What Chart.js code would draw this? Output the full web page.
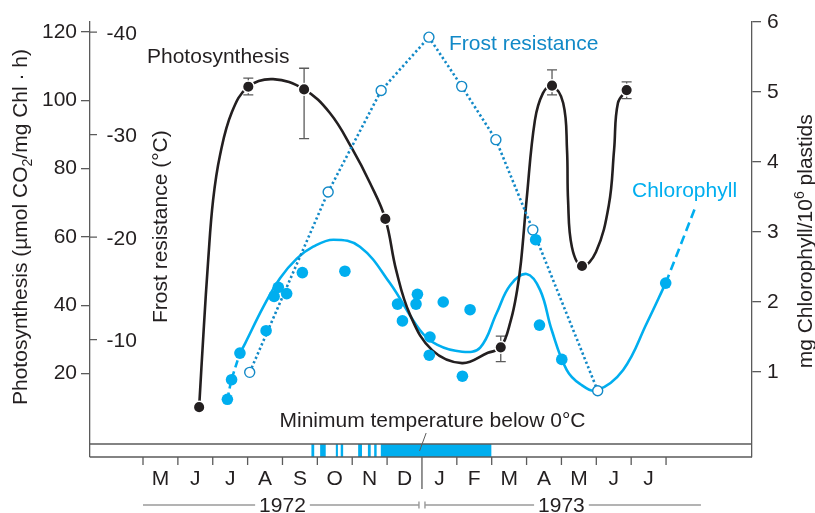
<!DOCTYPE html>
<html>
<head>
<meta charset="utf-8">
<script src="https://cdn.jsdelivr.net/npm/chart.js@4.4.1/dist/chart.umd.min.js"></script>
<style>
  html, body { margin: 0; padding: 0; background: #fff; }
  canvas { display: block; }
</style>
</head>
<body>
<canvas id="chart" width="815" height="513"></canvas>
<script>
// time axis in months counted from Jan 1972 (12 = Jan 1973)
const monthLabels = ['M', 'J', 'J', 'A', 'S', 'O', 'N', 'D', 'J', 'F', 'M', 'A', 'M', 'J', 'J'];
const firstMonth = 4;
const yearLabels = ['1972', '1973'];
const yearFrom = [4, 12];
const yearTo = [12, 20];

// tick labels
const leftTicks = [20, 40, 60, 80, 100, 120];
const frostTicks = [-10, -20, -30, -40];
const rightTicks = [1, 2, 3, 4, 5, 6];

// photosynthesis (µmol CO2/mg Chl·h)
const photoX = [5.61, 7.02, 8.62, 10.95, 14.26, 15.73, 16.59, 17.87];
const photoY = [10.2, 104.0, 103.2, 65.3, 27.7, 104.3, 51.5, 103.0];
const photoErrLow = [null, 101.6, 88.8, null, 23.5, 101.6, null, 100.5];
const photoErrHigh = [null, 106.5, 109.4, null, 31.0, 108.9, null, 105.4];
// hand drawn curve through the photosynthesis points
const photoCurveX = [5.61, 5.74, 5.87, 6.01, 6.21, 6.55, 7.02, 7.73, 8.62, 9.36, 9.99, 10.51, 10.95, 11.26, 11.66,
  12.29, 13.15, 13.89, 14.26, 14.55, 14.73, 14.84, 15.00, 15.24, 15.47, 15.73, 16.05, 16.16, 16.19, 16.30, 16.59,
  16.99, 17.36, 17.51, 17.62, 17.87];
const photoCurveY = [10.2, 32.8, 53.3, 70.8, 84.0, 96.6, 104.0, 106.2, 103.2, 96.3, 86.0, 75.8, 65.3, 50.3, 37.2,
  26.9, 23.1, 26.1, 27.7, 35.7, 44.5, 52.7, 70.8, 94.2, 102.1, 104.3, 99.2, 85.5, 70.8, 57.1, 51.5,
  55.6, 69.4, 85.5, 99.2, 103.0];

// frost resistance (°C)
const frostX = [7.06, 9.31, 10.83, 12.20, 13.14, 14.12, 15.18, 17.04];
const frostY = [-6.8, -24.4, -34.3, -39.5, -34.7, -29.5, -20.7, -5.0];

// chlorophyll (mg/10^6 plastids)
const chlX = [6.42, 6.54, 6.78, 7.53, 7.76, 7.88, 8.12, 8.57, 9.79, 11.30, 11.44, 11.83, 11.87, 12.21, 12.23, 12.61,
  13.16, 13.38, 15.26, 15.37, 16.01, 18.99];
const chlY = [0.61, 0.89, 1.27, 1.59, 2.08, 2.21, 2.12, 2.42, 2.44, 1.97, 1.73, 1.97, 2.11, 1.24, 1.50, 2.00,
  0.94, 1.89, 2.89, 1.67, 1.18, 2.27];
const chlCurveX = [6.78, 6.93, 7.45, 7.93, 8.41, 8.88, 9.46, 10.22, 11.08, 11.94, 12.43, 13.15, 13.67, 14.14, 14.53,
  15.00, 15.39, 15.72, 16.15, 16.53, 17.01, 17.77, 18.45, 18.99];
const chlCurveY = [1.27, 1.41, 1.93, 2.34, 2.62, 2.79, 2.89, 2.79, 2.27, 1.60, 1.39, 1.29, 1.35, 1.84, 2.24,
  2.40, 2.17, 1.60, 1.03, 0.83, 0.74, 1.03, 1.70, 2.27];
const chlStartX = [6.42, 6.54, 6.78];
const chlStartY = [0.61, 0.89, 1.27];
const chlEndX = [18.99, 19.83];
const chlEndY = [2.27, 3.34];

// periods with minimum temperature below 0°C
const belowZeroFrom = [8.83, 9.08, 9.53, 9.67, 10.17, 10.45, 10.63, 10.82];
const belowZeroTo = [8.91, 9.24, 9.59, 9.74, 10.28, 10.53, 10.70, 13.99];

const INK = '#231f20';
const AXIS = '#5b5b5b';
const CYAN = '#00aeef';
const FROST = '#1289c7';
const FAMILY = '"Liberation Sans", Arial, sans-serif';

const pts = (xs, ys) => xs.map((v, i) => ({ x: v, y: ys[i] }));

function rotatedText(ctx, x, y, parts) {
  ctx.save();
  ctx.translate(x, y);
  ctx.rotate(-Math.PI / 2);
  let cx = 0;
  parts.forEach(([t, size, dy]) => {
    ctx.font = size + 'px ' + FAMILY;
    ctx.fillText(t, cx, dy);
    cx += ctx.measureText(t).width;
  });
  ctx.restore();
}

const overlay = {
  id: 'overlay',
  beforeDatasetsDraw(chart) {
    const { ctx, scales: { x, y } } = chart;
    ctx.save();
    ctx.strokeStyle = AXIS;
    ctx.lineWidth = 1.3;
    photoX.forEach((v, i) => {
      if (photoErrLow[i] == null) return;
      const px = x.getPixelForValue(v);
      const y1 = y.getPixelForValue(photoErrLow[i]);
      const y2 = y.getPixelForValue(photoErrHigh[i]);
      ctx.beginPath();
      ctx.moveTo(px, y1); ctx.lineTo(px, y2);
      ctx.moveTo(px - 5, y1); ctx.lineTo(px + 5, y1);
      ctx.moveTo(px - 5, y2); ctx.lineTo(px + 5, y2);
      ctx.stroke();
    });
    ctx.restore();
  },
  afterDraw(chart) {
    const { ctx, chartArea: a, scales: { x, frost } } = chart;
    ctx.save();

    // temperature strip
    const stripTop = a.bottom - 13;
    ctx.fillStyle = CYAN;
    belowZeroFrom.forEach((v, i) => {
      const x1 = x.getPixelForValue(v);
      const x2 = x.getPixelForValue(belowZeroTo[i]);
      ctx.fillRect(x1, stripTop, x2 - x1, a.bottom - stripTop);
    });

    ctx.strokeStyle = AXIS;
    ctx.lineWidth = 1.3;
    ctx.beginPath();
    ctx.moveTo(a.left, stripTop); ctx.lineTo(a.right, stripTop);
    ctx.moveTo(a.left, a.bottom); ctx.lineTo(a.right, a.bottom);
    for (let m = firstMonth; m <= firstMonth + monthLabels.length; m++) {
      const px = x.getPixelForValue(m);
      ctx.moveTo(px, a.bottom);
      ctx.lineTo(px, a.bottom + (m % 12 === 0 ? 32 : 8));
    }
    frostTicks.forEach(v => {
      const py = frost.getPixelForValue(v);
      ctx.moveTo(a.left, py); ctx.lineTo(a.left + 7, py);
    });
    ctx.stroke();

    // pointer from the strip label
    ctx.lineWidth = 1;
    ctx.beginPath();
    ctx.moveTo(x.getPixelForValue(12.12), 433);
    ctx.lineTo(x.getPixelForValue(11.93), 451);
    ctx.stroke();

    ctx.fillStyle = INK;
    ctx.font = '21px ' + FAMILY;
    ctx.textAlign = 'left';
    ctx.textBaseline = 'alphabetic';
    frostTicks.forEach(v => {
      ctx.fillText(String(v), a.left + 16.5, frost.getPixelForValue(v) + 7.5);
    });

    // month letters
    ctx.textAlign = 'center';
    monthLabels.forEach((t, i) => {
      ctx.fillText(t, x.getPixelForValue(firstMonth + i + 0.5), a.bottom + 28);
    });

    // years with rules
    ctx.strokeStyle = '#9a9a9a';
    ctx.lineWidth = 1.4;
    const yy = 505;
    yearLabels.forEach((t, i) => {
      const x1 = x.getPixelForValue(yearFrom[i]);
      const x2 = x.getPixelForValue(yearTo[i]);
      const cx = (x1 + x2) / 2;
      const w = ctx.measureText(t).width;
      ctx.fillText(t, cx, 512);
      const l = i === 0 ? x1 : x1 + 3;
      const r = i === 0 ? x2 - 3 : x2;
      ctx.beginPath();
      ctx.moveTo(l, yy); ctx.lineTo(cx - w / 2 - 4, yy);
      ctx.moveTo(cx + w / 2 + 4, yy); ctx.lineTo(r, yy);
      ctx.stroke();
    });
    const xb = x.getPixelForValue(12);
    ctx.beginPath();
    ctx.moveTo(xb - 3, yy - 3.5); ctx.lineTo(xb - 3, yy + 3.5);
    ctx.moveTo(xb + 3, yy - 3.5); ctx.lineTo(xb + 3, yy + 3.5);
    ctx.stroke();

    // curve labels
    ctx.textAlign = 'left';
    ctx.fillStyle = INK;
    ctx.fillText('Photosynthesis', 147, 62.5);
    ctx.fillText('Minimum temperature below 0°C', 279.5, 427);
    ctx.fillStyle = FROST;
    ctx.fillText('Frost resistance', 449, 50);
    ctx.fillStyle = CYAN;
    ctx.fillText('Chlorophyll', 632, 196.5);

    // axis titles
    ctx.fillStyle = INK;
    rotatedText(ctx, 26.7, 405, [['Photosynthesis (µmol CO', 21, 0], ['2', 14, 5], ['/mg Chl · h)', 21, 0]]);
    rotatedText(ctx, 166.7, 323, [['Frost resistance (°C)', 21, 0]]);
    rotatedText(ctx, 811.5, 368.3, [['mg Chlorophyll/10', 21, 0], ['6', 14, -8], [' plastids', 21, 0]]);

    ctx.restore();
  }
};

Chart.defaults.font.family = FAMILY;
Chart.defaults.font.size = 21;
Chart.defaults.color = INK;

new Chart(document.getElementById('chart'), {
  type: 'scatter',
  data: {
    datasets: [
      {
        data: pts(photoX, photoY), yAxisID: 'y',
        pointRadius: 5.8, pointBackgroundColor: INK, pointBorderColor: '#fff', pointBorderWidth: 1.5
      },
      {
        data: pts(chlX, chlY), yAxisID: 'chl',
        pointRadius: 5.8, pointBackgroundColor: CYAN, pointBorderWidth: 0
      },
      {
        data: pts(frostX, frostY), yAxisID: 'frost', showLine: true,
        borderColor: FROST, borderWidth: 2.6, borderDash: [2.3, 2.6],
        pointRadius: 5, pointBackgroundColor: '#fff', pointBorderColor: FROST, pointBorderWidth: 1.4
      },
      {
        data: pts(photoCurveX, photoCurveY), yAxisID: 'y', showLine: true, tension: 0.4,
        borderColor: INK, borderWidth: 2.6, pointRadius: 0
      },
      {
        data: pts(chlCurveX, chlCurveY), yAxisID: 'chl', showLine: true, tension: 0.4,
        borderColor: CYAN, borderWidth: 2.6, pointRadius: 0
      },
      {
        data: pts(chlStartX, chlStartY), yAxisID: 'chl', showLine: true, tension: 0.3,
        borderColor: CYAN, borderWidth: 2.6, borderDash: [7, 4], pointRadius: 0
      },
      {
        data: pts(chlEndX, chlEndY), yAxisID: 'chl', showLine: true,
        borderColor: CYAN, borderWidth: 2.6, borderDash: [9, 5], pointRadius: 0
      }
    ]
  },
  options: {
    responsive: false,
    animation: false,
    layout: { padding: { top: 22, bottom: 56, left: 0, right: 0 } },
    plugins: { legend: { display: false }, tooltip: { enabled: false } },
    scales: {
      x: { type: 'linear', min: 2.48, max: 21.465, display: false },
      y: {
        position: 'left', min: -4.39, max: 122.93,
        afterFit: s => { s.width = 90; },
        afterBuildTicks: s => { s.ticks = leftTicks.map(v => ({ value: v })); },
        grid: { drawOnChartArea: false, tickLength: 9, color: AXIS, lineWidth: 1.3 },
        border: { color: AXIS, width: 1.3 },
        ticks: { padding: 4, color: INK, callback: v => String(v) }
      },
      frost: { position: 'left', display: false, reverse: true, min: -40.98, max: 1.46 },
      chl: {
        position: 'right', min: -0.214, max: 6,
        afterFit: s => { s.width = 63; },
        afterBuildTicks: s => { s.ticks = rightTicks.map(v => ({ value: v })); },
        grid: { drawOnChartArea: false, tickLength: 9, color: AXIS, lineWidth: 1.3 },
        border: { color: AXIS, width: 1.3 },
        ticks: { padding: 6, color: INK, callback: v => String(v) }
      }
    }
  },
  plugins: [overlay]
});
</script>
</body>
</html>
